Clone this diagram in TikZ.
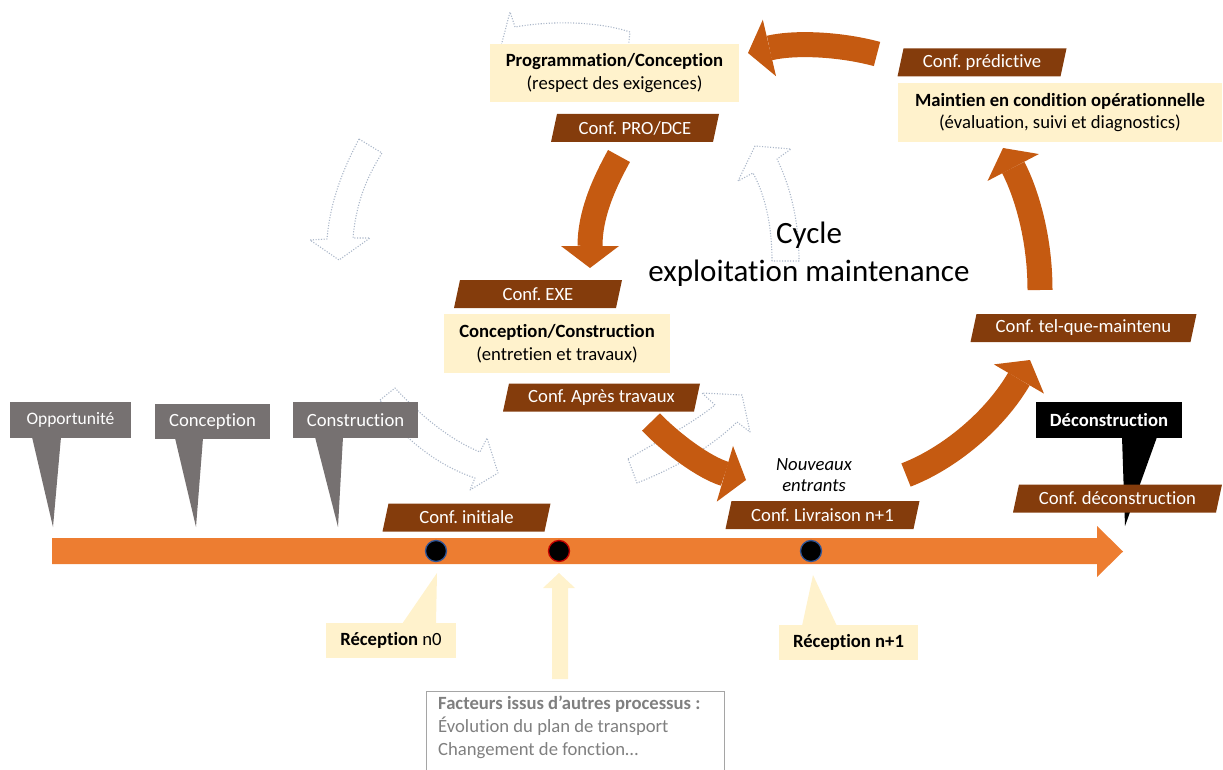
\documentclass[tikz,border=0pt]{standalone}
\usepackage{fontspec}
\setmainfont{Carlito}[Ligatures=NoCommon]
\usetikzlibrary{arrows.meta}
\definecolor{confbrown}{HTML}{843C0C}
\definecolor{cyclebrown}{HTML}{C55A11}
\definecolor{timeline}{HTML}{ED7D31}
\definecolor{cream}{HTML}{FFF2CC}
\definecolor{phase}{HTML}{767171}
\definecolor{ghost}{RGB}{170,182,200}
\definecolor{facteur}{HTML}{7F7F7F}
\definecolor{dotblue}{HTML}{2F5597}
\definecolor{dotred}{HTML}{C00000}
\frenchspacing

\tikzset{
  txt/.style={font=\fontsize{18.67}{22.8}\selectfont},
  txtb/.style={font=\fontsize{18.67}{22.8}\selectfont\bfseries},
  phasebox/.style={txt, fill=phase, text=white, inner sep=0, minimum height=36},
  creambox/.style={txt, fill=cream, align=center, inner sep=0},
  conftext/.style={txt, text=white, inner sep=0},
  ghostarrow/.style={draw=ghost, line width=1.1pt, dash pattern=on 1.1pt off 1.6pt, line join=round},
  cycarrow/.style={color=cyclebrown, line width=25pt,
    -{Triangle[length=22pt,width=58pt,line width=0pt]}},
  tlpoint/.style={circle, fill=black, minimum size=21, inner sep=0, line width=1.3pt},
}

% brown slanted configuration label: name, centre x, centre y, width, text
\newcommand\conflabel[5]{%
  \fill[confbrown] (#2-#4/2-3,#3+14) -- (#2-#4/2+3,#3-14) -- (#2+#4/2+3,#3-14) -- (#2+#4/2-3,#3+14) -- cycle;
  \node[conftext] (#1) at (#2,#3) {#5};}

\begin{document}
\begin{tikzpicture}[x=1pt,y=-1pt]
\useasboundingbox (0,0) rectangle (1223,770);

% faint dotted outline arrows (other cycle)
\draw[ghostarrow] (500,50) -- (510,12) -- (515,27) .. controls (555,20) and (600,22) .. (630,32) -- (628,50);
\draw[ghostarrow] (359,139) .. controls (340,175) and (330,205) .. (327,239) -- (310,240) -- (339,260)
  -- (370,238) -- (353,238) .. controls (356,205) and (365,180) .. (382,153) -- cycle;
\draw[ghostarrow] (772,261) .. controls (772,225) and (765,195) .. (753,173) -- (738,181) -- (755,146)
  -- (791,149) -- (777,159) .. controls (792,190) and (799,225) .. (799,261) -- cycle;
\draw[ghostarrow] (380,400) -- (395,388) .. controls (420,415) and (450,440) .. (480,452) -- (487,438)
  -- (498,473) -- (470,490) -- (475,478) .. controls (445,468) and (420,450) .. (400,430) -- cycle;
\draw[ghostarrow] (628,459) .. controls (660,440) and (690,425) .. (715,405) -- (702,393) -- (742,395)
  -- (750,432) -- (737,422) .. controls (710,448) and (675,468) .. (637,483) -- cycle;

% timeline
\fill[timeline] (52,538) -- (1097,538) -- (1097,526) -- (1123,551.5) -- (1097,577) -- (1097,564) -- (52,564) -- cycle;

% life-cycle phases
\fill[phase] (32,437) -- (61,437) -- (53,527) -- cycle;
\node[phasebox, minimum width=121, font=\fontsize{17.5}{21}\selectfont] (opp) at (70.5,420) {Opportunité};
\fill[phase] (175,438) -- (203,438) -- (196,527) -- cycle;
\node[phasebox, minimum width=115, minimum height=35] (conc) at (212.5,421.5) {Conception};
\fill[phase] (315,437) -- (343,437) -- (338,527) -- cycle;
\node[phasebox, minimum width=125] (cons) at (355.5,420) {Construction};
\fill[black] (1122,437) -- (1157,437) -- (1125,526) -- cycle;
\node[phasebox, txtb, fill=black, minimum width=146] (deco) at (1109,420) {Déconstruction};

% points on the timeline
\node[tlpoint, draw=dotblue] (p0) at (436,551) {};
\node[tlpoint, draw=dotred] (pf) at (559,551) {};
\node[tlpoint, draw=dotblue] (p1) at (811,551) {};

% receptions
\fill[cream] (402,624) -- (436,624) -- (437,573) -- cycle;
\node[creambox, minimum width=130, minimum height=35] (rec0) at (391,640.5) {\textbf{Réception} n0};
\fill[cream] (802,626) -- (837,626) -- (813,575) -- cycle;
\node[creambox, txtb, minimum width=139, minimum height=35] (rec1) at (848.5,642.5) {Réception n+1};

% external factors
\fill[cream] (559,573) -- (575,588) -- (568,588) -- (568,679) -- (552,679) -- (552,588) -- (543,588) -- cycle;
\draw[draw=facteur!70, line width=1pt] (426,780) -- (426,691) -- (724,691) -- (724,780);
\node[txt, text=facteur, align=left, anchor=north west, inner sep=0] (fact) at (438,696)
  {\textbf{Facteurs issus d’autres processus :}\\Évolution du plan de transport\\Changement de fonction…};

% operation / maintenance cycle boxes
\node[creambox, minimum width=249, minimum height=58] (prog) at (614.5,73)
  {\textbf{Programmation/Conception}\\(respect des exigences)};
\node[creambox, minimum width=324, minimum height=59] (mco) at (1060,112.5)
  {\textbf{Maintien en condition opérationnelle}\\(évaluation, suivi et diagnostics)};
\node[creambox, minimum width=226, minimum height=59] (cc) at (557,343.5)
  {\textbf{Conception/Construction}\\(entretien et travaux)};

% configuration labels
\conflabel{cinit}{466.5}{517.5}{162}{Conf. initiale}
\conflabel{cliv}{822.5}{515}{188}{Conf. Livraison n+1}
\conflabel{cdec}{1117.5}{498.5}{203}{Conf. déconstruction}
\conflabel{cexe}{538}{294}{162}{Conf. EXE}
\conflabel{capt}{601.5}{397.5}{191}{Conf. Après travaux}
\conflabel{cpro}{635}{128}{162}{Conf. PRO/DCE}
\conflabel{cpred}{982}{62.5}{163}{Conf. prédictive}
\conflabel{ctqm}{1083.5}{328}{220}{Conf. tel-que-maintenu}

% cycle title and note
\node[font=\fontsize{31}{38}\selectfont, align=center, inner sep=0] (cycle) at (809,254)
  {Cycle\\exploitation maintenance};
\node[font=\fontsize{18.67}{20.5}\selectfont\itshape, align=center, inner sep=0] (nouv) at (814,475)
  {Nouveaux\\entrants};

% cycle arrows
\coordinate (a1s) at (877,54);   \coordinate (a1e) at (748,53);
\coordinate (a2s) at (619,156);  \coordinate (a2e) at (590,268);
\coordinate (a3s) at (651,422);  \coordinate (a3e) at (746,480);
\coordinate (a4s) at (906,475);  \coordinate (a4e) at (1030,360);
\coordinate (a5s) at (1040,290); \coordinate (a5e) at (1003,148);
\draw[cycarrow] (a1s) .. controls (840,44) and (795,42) .. (a1e);
\draw[cycarrow] (a2s) .. controls (603,185) and (590,215) .. (a2e);
\draw[cycarrow] (a3s) .. controls (672,444) and (705,468) .. (a3e);
\draw[cycarrow] (a4s) .. controls (950,458) and (995,420) .. (a4e);
\draw[cycarrow] (a5s) .. controls (1040,235) and (1025,190) .. (a5e);
\end{tikzpicture}
\end{document}
